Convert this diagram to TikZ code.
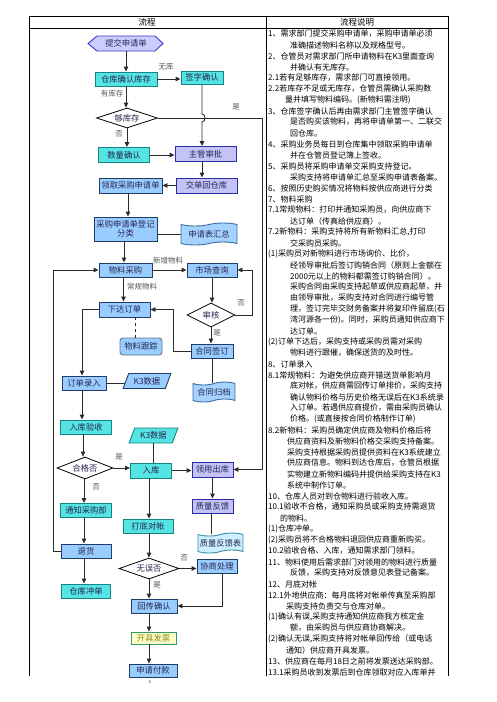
\documentclass[tikz,border=0pt]{standalone}
\usepackage{fontspec}
\setmainfont{Noto Sans CJK SC}
\usetikzlibrary{shapes.geometric,shapes.symbols,arrows.meta,calc}

\definecolor{cyanf}{HTML}{55E3E3}
\definecolor{cyand}{HTML}{138585}
\definecolor{lavf}{HTML}{C3C3F7}
\definecolor{lavd}{HTML}{2C2CA8}
\definecolor{bluef}{HTML}{99CCFF}
\definecolor{blued}{HTML}{1F3D66}
\definecolor{hexf}{HTML}{CCCCFF}
\definecolor{hexd}{HTML}{3A3AC8}
\definecolor{tapef}{HTML}{A6D2FF}
\definecolor{taped}{HTML}{3A6EA0}
\definecolor{tapeg}{HTML}{CCF0FF}
\definecolor{tapegd}{HTML}{3A8CA0}
\definecolor{yelf}{HTML}{FFFFCC}
\definecolor{yeld}{HTML}{339966}
\definecolor{yelt}{HTML}{8C8C1A}
\definecolor{boxt}{HTML}{262650}
\definecolor{lnc}{HTML}{2B2B2B}
\definecolor{lblc}{HTML}{555555}

\tikzset{
 base/.style={font=\fontsize{8.3}{9}\selectfont, text=boxt, inner sep=0pt, line width=0.9pt, align=center},
 sz/.style 2 args={minimum width=#1, minimum height=#2},
 cbox/.style={base, rectangle, draw=cyand, fill=cyanf},
 lbox/.style={base, rectangle, draw=lavd, fill=lavf},
 bbox/.style={base, rectangle, draw=blued, fill=bluef},
 ybox/.style={base, rectangle, draw=yeld, fill=yelf, text=yelt},
 rbox/.style={base, rectangle, rounded corners=3pt, draw=blued!70, fill=bluef},
 dia/.style={base, diamond, aspect=3, draw=black, fill=white, line width=0.8pt},
 tp/.style={base, tape, tape bend top=in and out, tape bend bottom=in and out, tape bend height=3pt, draw=taped, fill=tapef},
 tpg/.style={tp, draw=tapegd, fill=tapeg},
 para/.style={base, trapezium, trapezium left angle=62, trapezium right angle=118, trapezium stretches=true, draw=blued, fill=bluef},
 parac/.style={para, draw=cyand, fill=cyanf},
 arr/.style={draw=lnc, line width=0.9pt, -{Triangle[width=4.5pt,length=5pt]}},
 ln/.style={draw=lnc, line width=0.9pt},
 lbl/.style={font=\fontsize{7.5}{8}\selectfont, text=lblc, inner sep=0pt},
 rt/.style={font=\fontsize{8}{9}\selectfont, anchor=west, inner sep=0pt, text=black},
 hd/.style={font=\fontsize{8.5}{9}\selectfont, inner sep=0pt, text=black},
 tbl/.style={draw=black, line width=0.7pt},
}

\begin{document}
\begin{tikzpicture}[x=1pt,y=-1pt]
\fill[white] (0,0) rectangle (496,702);
\useasboundingbox (0,0) rectangle (496,702);

% table
\draw[tbl] (29,16) -- (448,16);
\draw[tbl] (29,28) -- (448,28);
\draw[tbl] (29,16) -- (29,676);
\draw[tbl] (266,16) -- (266,676);
\draw[tbl] (448,16) -- (448,676);
\node[hd] (h1) at (147,22) {流程};
\node[hd] (h2) at (357,22) {流程说明};

% hexagon
\path[fill=hexf, draw=hexd, line width=0.9pt] (88,43.5) -- (97,36) -- (155,36) -- (163,43.5) -- (155,51) -- (97,51) -- cycle;
\node[base, sz={58}{15}] (n1) at (126,43.5) {提交申请单};

\node[cbox, sz={62}{14}] (n2) at (126,79) {仓库确认库存};
\node[cbox, sz={42}{13}] (n3) at (202,77.5) {签字确认};
\node[dia, sz={61}{20}] (n4) at (127,118) {够库存};
\node[cbox, sz={51}{15}] (n5) at (124,155) {数量确认};
\node[lbox, sz={61}{15}] (n6) at (205.5,154) {主管审批};
\node[bbox, sz={63}{15}] (n7) at (130.5,185.5) {领取采购申请单};
\node[lbox, sz={61}{15}] (n8) at (206.5,185.5) {交单回仓库};
\node[bbox, sz={63}{24}] (n9) at (125.5,229) {采购申请单登记\\分类};
\node[tp, sz={56}{22}] (n10) at (209,234) {申请表汇总};
\node[bbox, sz={53}{14}] (n11) at (125.5,270) {物料采购};
\node[bbox, sz={50}{14}] (n12) at (212,270) {市场查询};
\node[bbox, sz={51}{15}] (n13) at (124.5,309.5) {下达订单};
\node[dia, sz={48}{24}] (n14) at (211,315) {审核};
\node[bbox, sz={42}{14}] (n15) at (212,351) {合同签订};
\node[rbox, sz={42}{17}] (n16) at (141,346.5) {物料跟踪};
\node[tp, sz={42}{20}] (n17) at (214,392) {合同归档};
\node[bbox, sz={44}{14}] (n18) at (84,383) {订单录入};
\node[para, sz={48}{15}] (n19) at (147,381) {K3数据};
\node[cbox, sz={51}{14}] (n20) at (86,427) {入库验收};
\node[parac, sz={49}{15}] (n21) at (153.5,435.5) {K3数据};
\node[dia, sz={56}{22}] (n22) at (85,468) {合格否};
\node[cbox, sz={41}{15}] (n23) at (151,470.5) {入库};
\node[lbox, sz={41}{15}] (n24) at (212.5,469.5) {领用出库};
\node[lbox, sz={41}{14}] (n25) at (212.5,506) {质量反馈};
\node[tpg, sz={45}{20}] (n26) at (220.5,543) {质量反馈表};
\node[cbox, sz={51}{14}] (n27) at (86,510.5) {通知采购部};
\node[bbox, sz={50}{14}] (n28) at (86,551) {退货};
\node[cbox, sz={49}{14}] (n29) at (86,591) {仓库冲单};
\node[cbox, sz={50}{14}] (n30) at (148,526) {打底对帐};
\node[dia, sz={60}{21}] (n31) at (149,568.5) {无误否};
\node[bbox, sz={40}{14}] (n32) at (217,566) {协商处理};
\node[bbox, sz={46}{14}] (n33) at (154,606) {回传确认};
\node[ybox, sz={45}{12}] (n34) at (153.5,638) {开具发票};
\node[bbox, sz={48}{13}] (n35) at (153,670.5) {申请付款};

\coordinate (vx) at (149,0);
\coordinate (rx) at (262,0);

% connectors
\draw[arr] (n1.south) -- (n1.south |- n2.north);
\draw[arr] (n2.east) -- (n3.west |- n2.east);
\draw[arr] (n2.south) -- (n2.south |- n4.north);
\draw[arr] (n4.south) -- (n4.south |- n5.north);
\coordinate (hp) at (n3.south |- n4.east);
\draw[arr] (n3.south) -- ([yshift=4pt]hp) .. controls ([xshift=4pt,yshift=4pt]hp) and ([xshift=4pt,yshift=-4pt]hp) .. ([yshift=-4pt]hp) -- (n3.south |- n6.north);
\draw[arr] (n4.east) -- (n4.east -| rx) |- (n24.east);
\draw[arr] (n5.east) -- (n6.west |- n5.east);
\draw[arr] (n6.south -| n3.south) -- (n3.south |- n8.north);
\draw[arr] (n8.west) -- (n7.east |- n8.west);
\draw[arr] ([xshift=-2.5pt]n7.south) -- ([xshift=-2.5pt]n7.south |- n9.north);
\draw[ln] (n9.east |- n10.west) -- (n10.west);
\draw[arr] ([xshift=-1.5pt]n9.south) -- ([xshift=-1.5pt]n9.south |- n11.north);
\draw[arr] (n11.east) -- (n12.west);
\draw[arr] ([xshift=-2pt]n11.south) -- ([xshift=-2pt]n11.south |- n13.north);
\draw[arr] (n12.south) -- (n12.south |- n14.north);
\draw[arr] (n14.east) -- ++(17,0) |- (n12.east);
\draw[arr] (n14.south) -- (n14.south |- n15.north);
\draw[arr] (n15.west) -- ++(-17,0) |- (n13.east);
\draw[ln, dashed] ([xshift=-6pt]n16.north |- n13.south) -- ([xshift=-6pt]n16.north);
\draw[ln] (n15.south) -- (n15.south |- n17.north);
\draw[arr] (n13.west) -| ([xshift=-2pt]n18.north);
\draw[ln] (n18.east) -- (n19.west |- n18.east);
\draw[arr] ([xshift=-2pt]n18.south) -- ([xshift=-2pt]n18.south |- n20.north);
\draw[arr] ([xshift=-1pt]n18.south |- n20.south) -- ([xshift=-1pt]n18.south |- n22.north);
\draw[arr] (n22.east) -- (n23.west |- n22.east);
\draw[ln] (n21.south) -- (n21.south |- n23.north);
\draw[arr] (n23.east) -- (n24.west |- n23.east);
\draw[arr] (n24.south) -- (n24.south |- n25.north);
\draw[ln] ([xshift=-1.5pt]n25.south) -- ([xshift=-1.5pt]n25.south |- n26.north);
\draw[arr] (n18.south |- n22.south) -- (n18.south |- n27.north);
\draw[arr] (n18.south |- n27.south) -- (n18.south |- n28.north);
\draw[arr] (n18.south |- n28.south) -- (n18.south |- n29.north);
\draw[arr] (n28.west) -- ++(-7,0) |- (n11.west);
\draw[arr] (n23.south -| vx) -- (n30.north -| vx);
\draw[arr] (n30.south -| vx) -- (n31.north -| vx);
\draw[arr] (n31.east) -- (n32.west |- n31.east);
\draw[arr] (n31.south -| vx) -- (n33.north -| vx);
\draw[arr] ([xshift=5pt]n32.south) |- (n33.east);
\draw[arr] (n33.south -| vx) -- (n34.north -| vx);
\draw[arr] (n34.south -| vx) -- (n35.north -| vx);

% labels
\node[lbl] (l1) at (166,67) {无库};
\node[lbl] (l2) at (112,94) {有库存};
\node[lbl] (l3) at (236,107) {是};
\node[lbl] (l4) at (119,134) {否};
\node[lbl] (l5) at (168,261) {新增物料};
\node[lbl] (l6) at (142,287) {常规物料};
\node[lbl] (l7) at (241,303) {否};
\node[lbl] (l8) at (217,333) {是};
\node[lbl] (l9) at (119,457) {是};
\node[lbl] (l10) at (96,487) {否};
\node[lbl] (l11) at (184,558) {否};
\node[lbl] (l12) at (157,585) {是};
\node[font=\fontsize{4}{4}\selectfont, inner sep=0pt] (pg) at (150,682) {1};

% right column text
\node[rt] (t1) at (268,34) {1、需求部门提交采购申请单，采购申请单必须};
\node[rt] (t2) at (290,45) {准确描述物料名称以及规格型号。};
\node[rt] (t3) at (268,56) {2、仓管员对需求部门所申请物料在K3里面查询};
\node[rt] (t4) at (290,67) {并确认有无库存。};
\node[rt] (t5) at (268,78) {2.1若有足够库存，需求部门可直接领用。};
\node[rt] (t6) at (268,89) {2.2若库存不足或无库存，仓管员需确认采购数};
\node[rt] (t7) at (285,100) {量并填写物料编码。(新物料需注明)};
\node[rt] (t8) at (268,111) {3、仓库签字确认后再由需求部门主管签字确认};
\node[rt] (t9) at (290,122) {是否购买该物料，再将申请单第一、二联交};
\node[rt] (t10) at (290,133) {回仓库。};
\node[rt] (t11) at (268,144) {4、采购业务员每日到仓库集中领取采购申请单};
\node[rt] (t12) at (290,155) {并在仓管员登记簿上签收。};
\node[rt] (t13) at (268,166) {5、采购员将采购申请单交采购支持登记。};
\node[rt] (t14) at (290,177) {采购支持将申请单汇总至采购申请表备案。};
\node[rt] (t15) at (268,188) {6、按照历史购买情况将物料按供应商进行分类};
\node[rt] (t16) at (268,199) {7、物料采购};
\node[rt] (t17) at (268,210) {7.1常规物料：打印并通知采购员，向供应商下};
\node[rt] (t18) at (290,221) {达订单（传真给供应商）。};
\node[rt] (t19) at (268,232) {7.2新物料：采购支持将所有新物料汇总,打印};
\node[rt] (t20) at (290,243) {交采购员采购。};
\node[rt] (t21) at (268,254) {(1)采购员对新物料进行市场询价、比价，};
\node[rt] (t22) at (290,265) {经领导审批后签订购销合同（原则上金额在};
\node[rt] (t23) at (290,276) {2000元以上的物料都需签订购销合同）。};
\node[rt] (t24) at (290,287) {采购合同由采购支持起草或供应商起草，并};
\node[rt] (t25) at (290,298) {由领导审批，采购支持对合同进行编号管};
\node[rt] (t26) at (290,309) {理，签订完毕交财务备案并将复印件留底(石};
\node[rt] (t27) at (290,320) {湾河源各一份)。同时，采购员通知供应商下};
\node[rt] (t28) at (290,331) {达订单。};
\node[rt] (t29) at (268,342) {(2)订单下达后，采购支持或采购员需对采购};
\node[rt] (t30) at (290,353) {物料进行跟催，确保送货的及时性。};
\node[rt] (t31) at (268,364) {8、订单录入};
\node[rt] (t32) at (268,375) {8.1常规物料：为避免供应商开错送货单影响月};
\node[rt] (t33) at (290,386) {底对帐，供应商需回传订单排价，采购支持};
\node[rt] (t34) at (290,397) {确认物料价格与历史价格无误后在K3系统录};
\node[rt] (t35) at (290,408) {入订单。若遇供应商提价，需由采购员确认};
\node[rt] (t36) at (290,419) {价格。(或直接按合同价格制作订单)};
\node[rt] (t37) at (268,430) {8.2新物料：采购员确定供应商及物料价格后将};
\node[rt] (t38) at (287,441) {供应商资料及新物料价格交采购支持备案。};
\node[rt] (t39) at (287,452) {采购支持根据采购员提供资料在K3系统建立};
\node[rt] (t40) at (287,463) {供应商信息。物料到达仓库后，仓管员根据};
\node[rt] (t41) at (287,474) {实物建立新物料编码并提供给采购支持在K3};
\node[rt] (t42) at (287,485) {系统中制作订单。};
\node[rt] (t43) at (268,496) {10、仓库人员对到仓物料进行验收入库。};
\node[rt] (t44) at (268,507) {10.1验收不合格，通知采购员或采购支持需退货};
\node[rt] (t45) at (280,518) {的物料。};
\node[rt] (t46) at (268,529) {(1)仓库冲单。};
\node[rt] (t47) at (268,540) {(2)采购员将不合格物料退回供应商重新购买。};
\node[rt] (t48) at (268,551) {10.2验收合格、入库，通知需求部门领料。};
\node[rt] (t49) at (268,562) {11、物料使用后需求部门对领用的物料进行质量};
\node[rt] (t50) at (290,573) {反馈，采购支持对反馈意见表登记备案。};
\node[rt] (t51) at (268,584) {12、月底对帐};
\node[rt] (t52) at (268,595) {12.1外地供应商：每月底将对帐单传真至采购部};
\node[rt] (t53) at (286,606) {采购支持负责交与仓库对单。};
\node[rt] (t54) at (268,617) {(1)确认有误,采购支持通知供应商我方核定金};
\node[rt] (t55) at (290,628) {额，由采购员与供应商协商解决。};
\node[rt] (t56) at (268,639) {(2)确认无误,采购支持将对帐单回传给（或电话};
\node[rt] (t57) at (286,650) {通知）供应商开具发票。};
\node[rt] (t58) at (268,661) {13、供应商在每月18日之前将发票送达采购部。};
\node[rt] (t59) at (268,672) {13.1采购员收到发票后到仓库领取对应入库单并};
\end{tikzpicture}
\end{document}
